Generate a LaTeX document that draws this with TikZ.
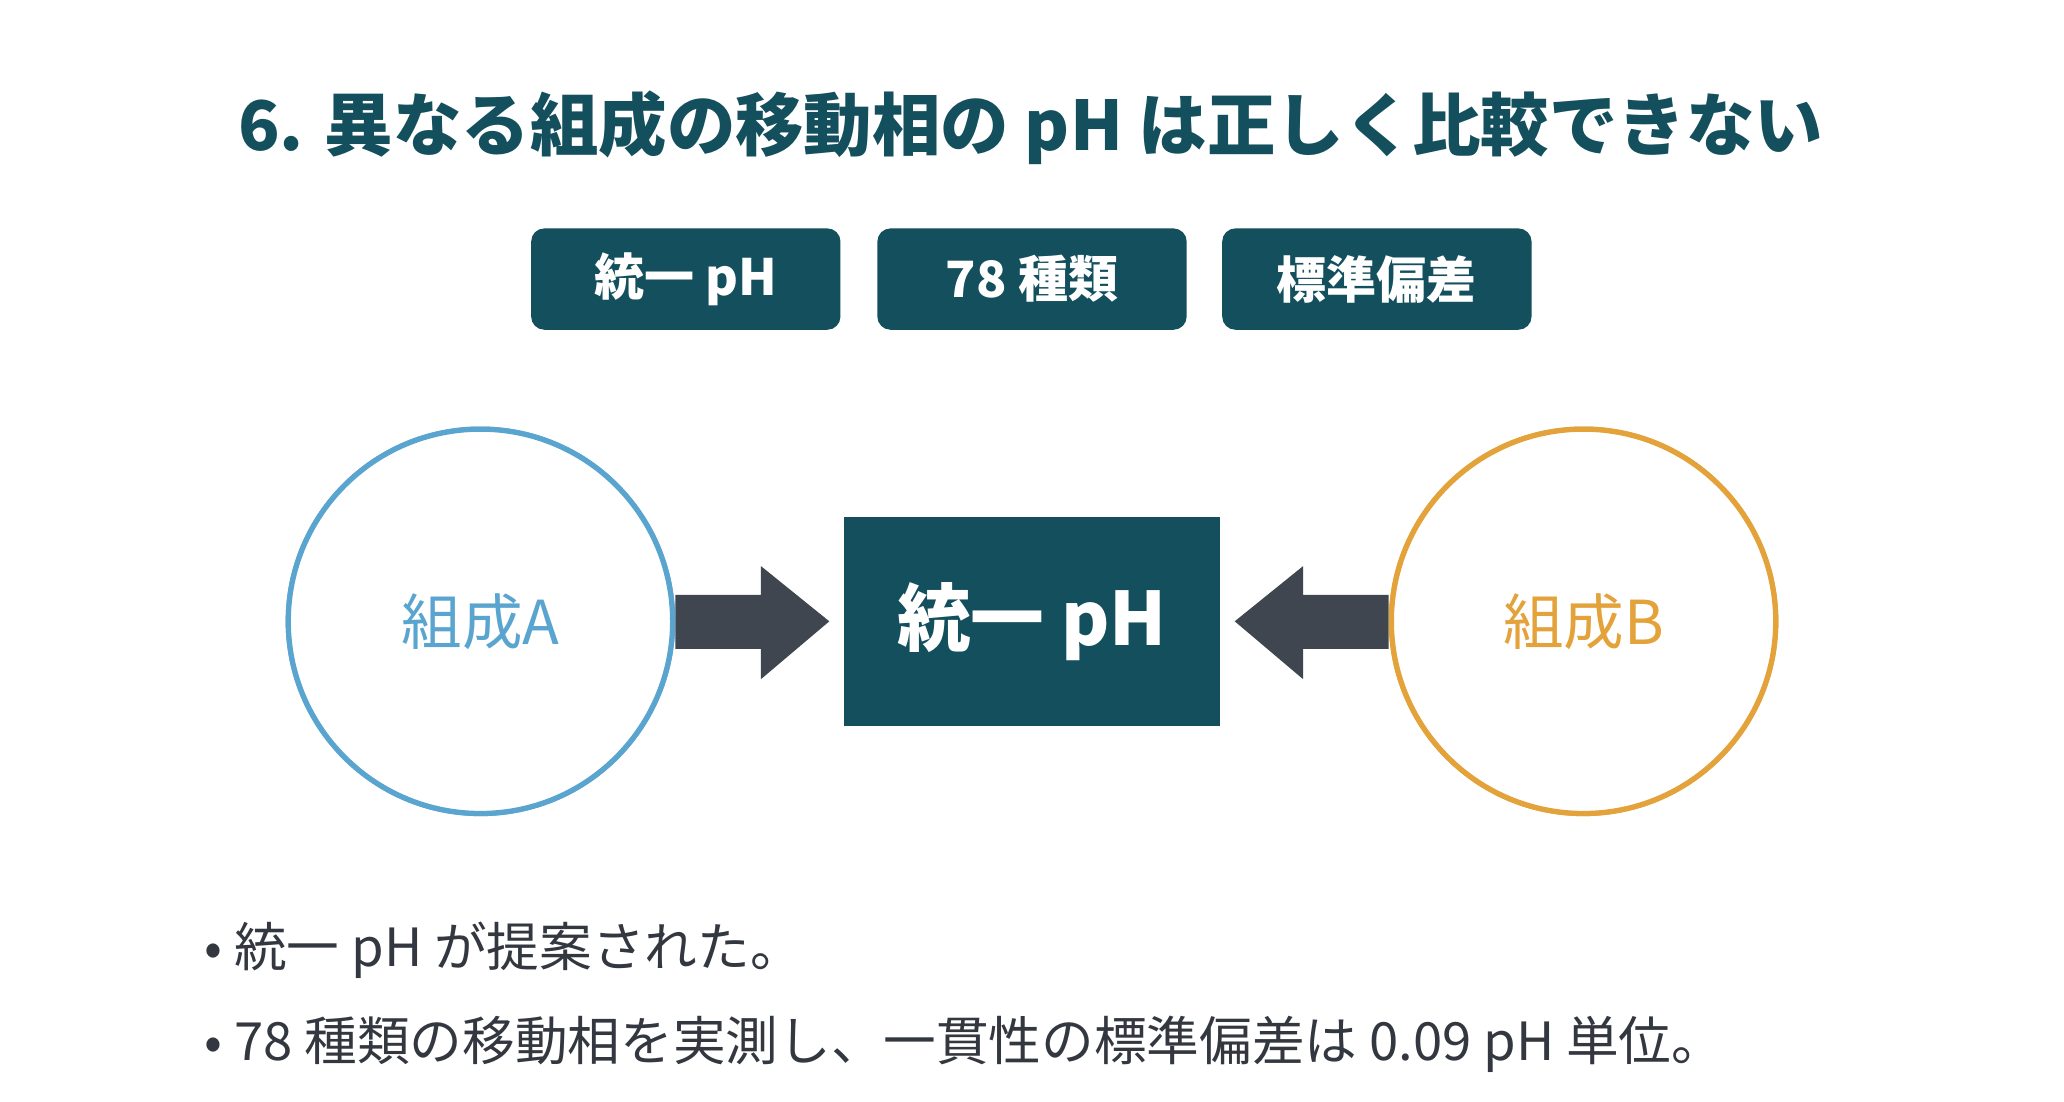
\documentclass[tikz,border=0pt]{standalone}
\usepackage{fontspec}
\setmainfont{Noto Sans CJK JP}
\usetikzlibrary{arrows.meta}
\definecolor{teal}{HTML}{134F5C}
\definecolor{cblue}{HTML}{5AA5D0}
\definecolor{corange}{HTML}{E3A23A}
\definecolor{arr}{HTML}{3F4650}
\definecolor{txt}{HTML}{333840}
\begin{document}
\begin{tikzpicture}[x=0.5pt,y=-0.5pt,
 tag/.style={fill=teal,rounded corners=5pt,minimum width=117.5pt,minimum height=38.5pt,text=white,font=\bfseries\fontsize{19}{22}\selectfont,inner sep=0pt},
 circ/.style={circle,line width=2pt,minimum size=146pt,fill=white,inner sep=0pt,font=\fontsize{23}{26}\selectfont},
 bigarrow/.style={fill=arr,draw=none},
 bullet/.style={anchor=west,text=txt,font=\fontsize{20}{24}\selectfont,inner sep=0pt}]
\useasboundingbox[fill=white] (0,0) rectangle (1568,837);
\node[text=teal,font=\bfseries\fontsize{26}{30}\selectfont] (title) at (783,97) {6. 異なる組成の移動相の pH は正しく比較できない};
\node[tag] (t1) at (521,212) {統一 pH};
\node[tag] (t2) at (784,212) {78 種類};
\node[tag] (t3) at (1046,212) {標準偏差};
\node[circ,draw=cblue,text=cblue] (a) at (365,472) {組成A};
\node[circ,draw=corange,text=corange] (b) at (1203,472) {組成B};
\node[fill=teal,minimum width=143pt,minimum height=79.5pt,text=white,font=\bfseries\fontsize{28}{32}\selectfont,inner sep=0pt] (c) at (784,472) {統一 pH};
\fill[bigarrow] (a.east|-0,452) -- (578,452) -- (578,430) -- (630,472) -- (578,516) -- (578,493) -- (a.east|-0,493) -- cycle;
\fill[bigarrow] (b.west|-0,452) -- (990,452) -- (990,430) -- (938,472) -- (990,516) -- (990,493) -- (b.west|-0,493) -- cycle;
\node[circ,draw=cblue,text=cblue] at (a) {組成A};
\node[circ,draw=corange,text=corange] at (b) {組成B};
\node[bullet] (l1) at (155,722) {• 統一 pH が提案された。};
\node[bullet] (l2) at (155,793) {• 78 種類の移動相を実測し、一貫性の標準偏差は 0.09 pH 単位。};
\end{tikzpicture}
\end{document}
